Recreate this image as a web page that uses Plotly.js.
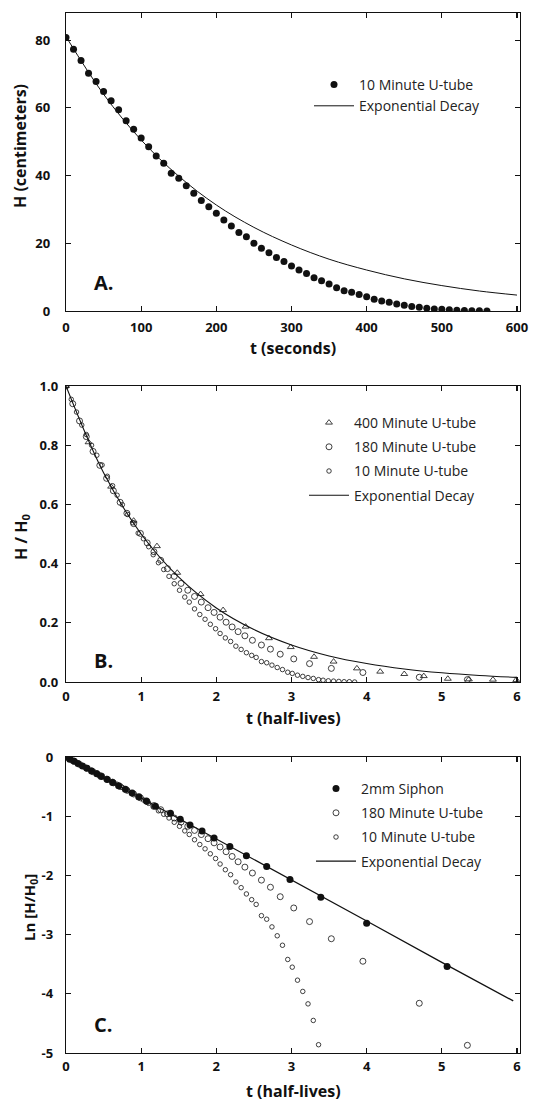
<!DOCTYPE html>
<html>
<head>
<meta charset="utf-8">
<script src="https://cdn.plot.ly/plotly-3.0.1.min.js"></script>
<style>
  html, body { margin: 0; padding: 0; background: #fff; }
  #chart { width: 537px; height: 1103px; }
</style>
</head>
<body>
<div id="chart"></div>
<script>
// ---------- Panel A: H (cm) vs t (s) ----------
const tA = [0,10,20,30,40,50,60,70,80,90,100,110,120,130,140,150,160,170,180,190,200,210,220,230,240,250,260,270,280,290,300,310,320,330,340,350,360,370,380,390,400,410,420,430,440,450,460,470,480,490,500,510,520,530,540,550,560];
const hA = [80.8,77.3,74.0,70.2,67.8,64.8,62.1,59.4,56.2,53.7,51.1,48.5,45.8,43.6,40.7,39.2,37.0,34.8,32.6,30.8,28.9,26.9,25.1,23.2,21.9,20.0,18.5,17.2,15.8,14.6,13.3,12.1,11.1,9.8,8.9,8.0,6.9,6.0,5.5,4.9,4.2,3.5,2.95,2.6,2.1,1.7,1.3,1.1,0.8,0.6,0.5,0.35,0.25,0.15,0.1,0.05,0.02];
const tLineA = [0,50,100,150,200,250,300,350,400,450,500,550,600];
const hLineA = [81,64,50.5,39.8,31.3,24.7,19.5,15.3,12.1,9.5,7.5,5.9,4.7];

// ---------- Panel B: H/H0 vs t (half-lives) ----------
const t400 = [0,0.3,0.6,0.9,1.21,1.48,1.79,2.09,2.39,2.70,2.99,3.30,3.56,3.87,4.18,4.50,4.76,5.08,5.36,5.68,5.99];
const h400 = [1.0,0.81,0.66,0.545,0.459,0.369,0.297,0.243,0.187,0.148,0.118,0.085,0.069,0.046,0.035,0.027,0.020,0.011,0.009,0.008,0.007];
const t180 = [0,0.09,0.18,0.27,0.36,0.45,0.54,0.63,0.72,0.81,0.90,0.99,1.08,1.17,1.26,1.35,1.44,1.53,1.62,1.71,1.80,1.89,1.97,2.05,2.13,2.21,2.29,2.38,2.48,2.60,2.72,2.85,3.03,3.24,3.53,3.95,4.70,5.34];
const h180 = [1.0,0.940,0.882,0.829,0.779,0.732,0.688,0.646,0.607,0.570,0.535,0.502,0.470,0.440,0.411,0.383,0.357,0.333,0.310,0.289,0.270,0.251,0.235,0.219,0.202,0.186,0.170,0.156,0.141,0.125,0.111,0.094,0.078,0.062,0.046,0.032,0.016,0.008];
const tB10 = [0,0.07,0.14,0.21,0.27,0.34,0.41,0.48,0.55,0.62,0.68,0.75,0.82,0.89,0.96,1.03,1.10,1.16,1.23,1.30,1.37,1.44,1.51,1.58,1.64,1.71,1.78,1.85,1.92,1.99,2.05,2.12,2.19,2.26,2.33,2.40,2.47,2.53,2.60,2.67,2.74,2.81,2.88,2.95,3.01,3.08,3.15,3.22,3.29,3.36,3.42,3.49,3.56,3.63,3.70,3.77,3.84];
const hB10 = [1.000,0.955,0.912,0.868,0.836,0.800,0.766,0.733,0.695,0.663,0.631,0.599,0.566,0.538,0.503,0.484,0.457,0.430,0.403,0.380,0.357,0.332,0.310,0.287,0.270,0.247,0.228,0.212,0.195,0.180,0.164,0.149,0.137,0.121,0.110,0.099,0.090,0.083,0.069,0.065,0.057,0.049,0.042,0.033,0.029,0.023,0.019,0.015,0.012,0.008,0.006,0.004,0.003,0.002,0.001,0.001,0.000];
const tLineB = [0,0.5,1,1.5,2,2.5,3,3.5,4,4.5,5,5.5,6];
const hLineB = [1,0.707,0.5,0.354,0.25,0.177,0.125,0.088,0.0625,0.044,0.031,0.022,0.0156];

// ---------- Panel C: Ln[H/H0] vs t (half-lives) ----------
const tSiph = [0,0.05,0.11,0.16,0.22,0.28,0.34,0.41,0.47,0.55,0.62,0.70,0.79,0.88,0.97,1.07,1.19,1.39,1.52,1.65,1.81,1.97,2.18,2.40,2.67,2.98,3.39,4.00,5.07];
const lnSiph = [0,-0.036,-0.073,-0.111,-0.151,-0.192,-0.236,-0.281,-0.329,-0.378,-0.431,-0.486,-0.545,-0.607,-0.673,-0.744,-0.83,-0.95,-1.05,-1.15,-1.25,-1.37,-1.51,-1.67,-1.85,-2.07,-2.37,-2.81,-3.54];
const ln180 = [0,-0.062,-0.125,-0.187,-0.25,-0.312,-0.374,-0.437,-0.50,-0.562,-0.625,-0.69,-0.755,-0.82,-0.89,-0.96,-1.03,-1.10,-1.17,-1.24,-1.31,-1.38,-1.45,-1.52,-1.60,-1.68,-1.77,-1.86,-1.96,-2.08,-2.20,-2.36,-2.55,-2.78,-3.07,-3.45,-4.16,-4.87];
const tC10 = [0,0.07,0.14,0.21,0.27,0.34,0.41,0.48,0.55,0.62,0.68,0.75,0.82,0.89,0.96,1.03,1.10,1.16,1.23,1.30,1.37,1.44,1.51,1.58,1.64,1.71,1.78,1.85,1.92,1.99,2.05,2.12,2.19,2.26,2.33,2.40,2.47,2.53,2.60,2.67,2.74,2.81,2.88,2.95,3.01,3.08,3.15,3.22,3.29,3.36];
const lnC10 = [0,-0.046,-0.092,-0.141,-0.179,-0.223,-0.267,-0.311,-0.364,-0.411,-0.460,-0.513,-0.569,-0.620,-0.687,-0.726,-0.783,-0.844,-0.909,-0.968,-1.030,-1.103,-1.171,-1.248,-1.309,-1.398,-1.478,-1.551,-1.635,-1.715,-1.808,-1.904,-1.988,-2.112,-2.207,-2.313,-2.41,-2.49,-2.68,-2.74,-2.87,-3.02,-3.18,-3.42,-3.55,-3.77,-3.96,-4.17,-4.45,-4.86];
const tLineC = [0,1,2,3,4,5,5.95];
const lnLineC = [0,-0.69,-1.39,-2.08,-2.77,-3.47,-4.12];

// ---------- tick labels ----------
const yTickValsC = [-5,-4,-3,-2,-1,0];
const yTickTextC = ['-5','-4','-3','-2','-1','0'];

// ---------- labels ----------
const xTitleA = 't (seconds)';
const xTitleBC = 't (half-lives)';
const yTitleA = 'H (centimeters)';
const yTitleB = 'H / H<sub>0</sub>';
const yTitleC = 'Ln [H/H<sub>0</sub>]';

// ---------- layout helpers (pixel -> paper) ----------
const W = 537, H = 1103;
const px = x => x / W;
const py = y => 1 - y / H;
const INK = '#111';
const FONT = 'Open Sans, Noto Sans, sans-serif';

function axis(domain, range, dtick, anchor, extra) {
  return Object.assign({
    domain: domain, range: range, dtick: dtick, tick0: 0, anchor: anchor,
    showline: true, linewidth: 1.3, linecolor: INK, mirror: 'ticks',
    ticks: 'inside', ticklen: 5, tickwidth: 1.1, tickcolor: INK,
    showgrid: false, zeroline: false, automargin: false, fixedrange: true,
    tickfont: {family: FONT, size: 13, color: INK, weight: 'bold'}
  }, extra || {});
}

const xDom = [px(66), px(520)];

const traces = [
  // A
  {x: tA, y: hA, xaxis: 'x', yaxis: 'y', mode: 'markers', name: '10 Minute U-tube', legend: 'legend',
   marker: {symbol: 'circle', size: 7, color: INK}},
  {x: tLineA, y: hLineA, xaxis: 'x', yaxis: 'y', mode: 'lines', name: 'Exponential Decay', legend: 'legend',
   line: {color: INK, width: 1, shape: 'spline'}},
  // B
  {x: t400, y: h400, xaxis: 'x2', yaxis: 'y2', mode: 'markers', name: '400 Minute U-tube', legend: 'legend2', legendgroup: 'b1',
   marker: {symbol: 'triangle-up-open', size: 6, color: INK, line: {width: 0.8}}},
  {x: t180, y: h180, xaxis: 'x2', yaxis: 'y2', mode: 'markers', name: '180 Minute U-tube', legend: 'legend2', legendgroup: 'b2',
   marker: {symbol: 'circle-open', size: 6, color: INK, line: {width: 0.8}}},
  {x: tB10, y: hB10, xaxis: 'x2', yaxis: 'y2', mode: 'markers', name: '10 Minute U-tube', legend: 'legend2', legendgroup: 'b3',
   marker: {symbol: 'circle-open', size: 4.5, color: INK, line: {width: 0.8}}},
  {x: tLineB, y: hLineB, xaxis: 'x2', yaxis: 'y2', mode: 'lines', name: 'Exponential Decay', legend: 'legend2', legendgroup: 'b4',
   line: {color: INK, width: 1.1, shape: 'spline'}},
  // C
  {x: tSiph, y: lnSiph, xaxis: 'x3', yaxis: 'y3', mode: 'markers', name: '2mm Siphon', legend: 'legend3', legendgroup: 'c1',
   marker: {symbol: 'circle', size: 7, color: INK}},
  {x: t180, y: ln180, xaxis: 'x3', yaxis: 'y3', mode: 'markers', name: '180 Minute U-tube', legend: 'legend3', legendgroup: 'c2',
   marker: {symbol: 'circle-open', size: 6, color: INK, line: {width: 0.8}}},
  {x: tC10, y: lnC10, xaxis: 'x3', yaxis: 'y3', mode: 'markers', name: '10 Minute U-tube', legend: 'legend3', legendgroup: 'c3',
   marker: {symbol: 'circle-open', size: 4.5, color: INK, line: {width: 0.8}}},
  {x: tLineC, y: lnLineC, xaxis: 'x3', yaxis: 'y3', mode: 'lines', name: 'Exponential Decay', legend: 'legend3', legendgroup: 'c4',
   line: {color: INK, width: 1.3}}
];

function legend(x, y, gap, size) {
  return {x: px(x), y: py(y), xref: 'paper', yref: 'paper', xanchor: 'left', yanchor: 'top',
    bgcolor: 'rgba(0,0,0,0)', borderwidth: 0, font: {family: FONT, size: size, color: '#222'},
    tracegroupgap: gap, itemwidth: 40, itemclick: false, itemdoubleclick: false};
}

function ann(text, x, y, size, bold, angle) {
  return {text: text, x: px(x), y: py(y), xref: 'paper', yref: 'paper', showarrow: false,
    xanchor: 'center', yanchor: 'middle', textangle: angle || 0,
    font: {family: FONT, size: size, color: INK, weight: bold ? 'bold' : 'normal'}};
}

const layout = {
  width: W, height: H,
  margin: {l: 0, r: 0, t: 0, b: 0},
  paper_bgcolor: '#fff', plot_bgcolor: '#fff',
  showlegend: true,
  xaxis:  axis(xDom, [0, 604], 100, 'y', {ticklabelstandoff: 4}),
  yaxis:  axis([py(311), py(13)], [0, 88], 20, 'x', {ticklabelstandoff: 12}),
  xaxis2: axis(xDom, [0, 6.04], 1, 'y2', {ticklabelstandoff: 2}),
  yaxis2: axis([py(682), py(386)], [0, 1], 0.2, 'x2', {ticklabelstandoff: 4, tickformat: '.1f'}),
  xaxis3: axis(xDom, [0, 6.04], 1, 'y3', {ticklabelstandoff: 1}),
  yaxis3: axis([py(1053), py(757)], [-5, 0], 1, 'x3',
               {ticklabelstandoff: 9, tickmode: 'array', tickvals: yTickValsC, ticktext: yTickTextC}),
  legend: legend(309, 69, 0, 14),
  legend2: legend(304, 407, 3, 14),
  legend3: legend(311, 773, 3, 14),
  annotations: [
    ann(xTitleA, 293, 348, 16, true),
    ann(xTitleBC, 293, 718, 16, true),
    ann(xTitleBC, 293, 1091, 16, true),
    ann(yTitleA, 20, 146, 16, true, -90),
    ann(yTitleB, 21, 537, 16, true, -90),
    ann(yTitleC, 30, 907, 15, true, -90),
    ann('A.', 104, 282, 20, true),
    ann('B.', 103, 660, 20, true),
    ann('C.', 103, 1024, 20, true)
  ]
};

Plotly.newPlot('chart', traces, layout, {staticPlot: true, displayModeBar: false});
</script>
</body>
</html>
